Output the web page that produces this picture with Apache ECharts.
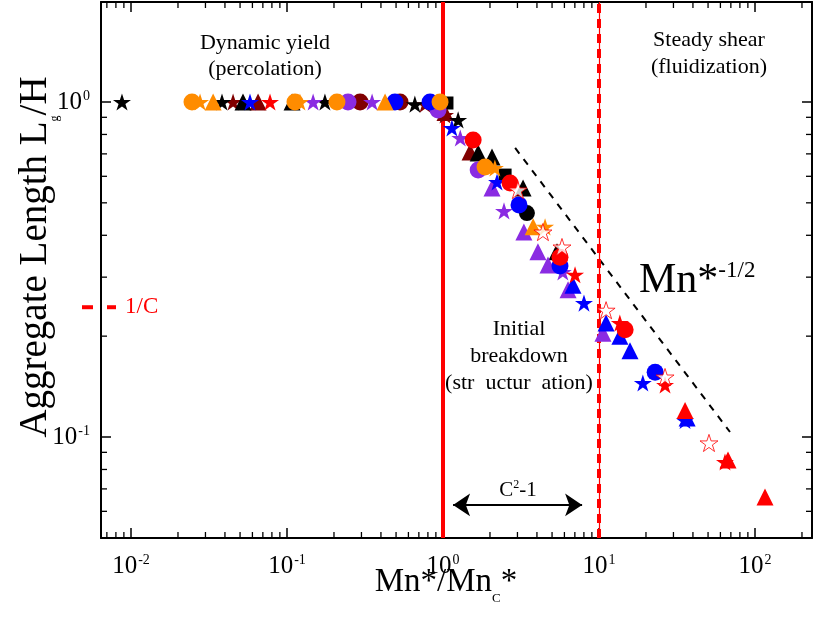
<!DOCTYPE html>
<html><head><meta charset="utf-8">
<script src="https://cdn.jsdelivr.net/npm/echarts@6/dist/echarts.min.js"></script>
<style>html,body{margin:0;padding:0;background:#fff}#c{width:814px;height:617px}</style>
</head><body><div id="c"></div>
<script>
// ---- axis ranges & ticks ----
const xRange = [0.00642, 231.9];
const yRange = [0.04995, 1.988];
const xTickValues = [0.01, 0.1, 1, 10, 100];
const yTickValues = [0.1, 1];
const xMinorTicks = [];
[0.001, 0.01, 0.1, 1, 10, 100].forEach(d => { for (let k = 2; k <= 9; k++) { const v = d * k; if (v > xRange[0] && v < xRange[1]) xMinorTicks.push(v); } });
const yMinorTicks = [];
[0.01, 0.1, 1].forEach(d => { for (let k = 2; k <= 9; k++) { const v = d * k; if (v > yRange[0] && v < yRange[1]) yMinorTicks.push(v); } });

// ---- data series (x, y) ----
const blackStars = [[0.00875,1.0],[0.0383,1.0],[0.175,1.0],[0.66,0.985],[1.25,0.884]];
const orangeCircles = [[0.0246,1.0],[0.1125,1.0],[0.209,1.0],[0.957,1.0],[1.86,0.64]];
const orangeStars = [[0.0277,1.0],[0.121,1.0],[2.15,0.635],[4.51,0.424]];
const orangeTriangles = [[0.0336,1.0],[0.425,1.0],[3.78,0.424]];
const maroonStars = [[0.0451,1.0],[0.767,0.985],[1.03,0.915]];
const maroonTriangles = [[0.0652,1.0],[1.03,0.93],[1.49,0.709]];
const maroonCircles = [[0.294,1.0],[0.530,1.0]];
const blackTriangles = [[0.0522,1.0],[0.1077,1.0],[1.68,0.704],[2.06,0.685],[3.26,0.554],[5.38,0.357]];
const blackCircles = [[3.45,0.466]];
const blackSquares = [[1.06,0.993],[2.50,0.605]];
const blueStars = [[0.0579,1.0],[1.14,0.836],[2.22,0.577],[8.01,0.251],[19.1,0.145],[35.6,0.112]];
const blueCircles = [[0.492,1.0],[0.826,1.0],[3.07,0.493],[5.62,0.324],[22.9,0.156]];
const blueTriangles = [[6.81,0.284],[11.1,0.219],[13.6,0.2],[15.8,0.181],[36.7,0.114]];
const purpleStars = [[0.147,1.0],[0.351,1.0],[1.29,0.781],[2.46,0.473],[5.86,0.311]];
const purpleCircles = [[0.246,1.0],[0.929,0.946],[1.68,0.627]];
const purpleTriangles = [[2.06,0.554],[3.30,0.409],[4.06,0.357],[4.71,0.326],[6.33,0.275],[10.6,0.204]];
const redCircles = [[1.56,0.77],[2.69,0.573],[5.62,0.344],[14.7,0.209]];
const redStars = [[0.0778,1.0],[7.02,0.305],[13.6,0.219],[26.5,0.143],[64.2,0.0842]];
const redOpenStars = [[3.02,0.546],[4.37,0.409],[5.79,0.369],[11.1,0.239],[26.5,0.151],[50.7,0.096]];
const redTriangles = [[35.6,0.12],[67.1,0.0854],[115.9,0.0662]];

// guide line Mn*^-1/2
const guideLine = [[2.9,0.729],[69.1,0.1035]];
// reference lines
const transitionX = [1, 10];
const invC = 0.244;
const arrowSpan = [[1.16,0.0627],[7.79,0.0627]];

const STAR = 'path://M50,0 L61.17,34.63 L97.55,34.55 L68.07,55.87 L79.39,90.45 L50,69 L20.61,90.45 L31.93,55.87 L2.45,34.55 L38.83,34.63 Z';
const ORANGE = '#ff8c00', MAROON = '#800000', BLUE = '#0000ff', PURPLE = '#8a2be2', RED = '#ff0000', BLACK = '#000000';
const SERIF = '"Liberation Serif","DejaVu Serif",serif';

function sc(name, data, color, symbol, size, open) {
  return {
    name, type: 'scatter', data, symbol, symbolSize: size, symbolKeepAspect: true,
    itemStyle: open ? { color: '#ffffff', borderColor: color, borderWidth: 1 } : { color: color, opacity: 1 },
    emphasis: { disabled: true }, z: 5
  };
}

function supLabel(v) {
  const e = Math.log10(v);
  if (Math.abs(e - Math.round(e)) > 1e-6) return '';
  return '{b|10}{p|' + Math.round(e) + '}';
}
const labelRich = {
  b: { fontFamily: SERIF, fontSize: 25, color: '#000', lineHeight: 26 },
  p: { fontFamily: SERIF, fontSize: 14, color: '#000', verticalAlign: 'top', lineHeight: 15, padding: [0,0,0,1] }
};

const chart = echarts.init(document.getElementById('c'));
const option = {
  animation: false,
  backgroundColor: '#fff',
  grid: { left: 101, right: 2, top: 2, bottom: 79, containLabel: false },
  xAxis: [
    { type: 'log', min: xRange[0], max: xRange[1], logBase: 10, position: 'bottom',
      axisLine: { show: true, lineStyle: { color: '#000', width: 2 } },
      axisTick: { show: true, inside: true, length: 10, lineStyle: { color: '#000', width: 1.5 } },
      axisLabel: { show: true, formatter: supLabel, rich: labelRich, margin: 15, showMinLabel: false, showMaxLabel: false },
      splitLine: { show: false }, minorTick: { show: false } },
    { type: 'log', min: xRange[0], max: xRange[1], logBase: 10, position: 'top',
      axisLine: { show: true, lineStyle: { color: '#000', width: 2 } },
      axisTick: { show: true, inside: true, length: 10, lineStyle: { color: '#000', width: 1.5 } },
      axisLabel: { show: false }, splitLine: { show: false } }
  ],
  yAxis: [
    { type: 'log', min: yRange[0], max: yRange[1], logBase: 10, position: 'left',
      axisLine: { show: true, lineStyle: { color: '#000', width: 2 } },
      axisTick: { show: true, inside: true, length: 10, lineStyle: { color: '#000', width: 1.5 } },
      axisLabel: { show: true, formatter: supLabel, rich: labelRich, margin: 11, showMinLabel: false, showMaxLabel: false },
      splitLine: { show: false } },
    { type: 'log', min: yRange[0], max: yRange[1], logBase: 10, position: 'right',
      axisLine: { show: true, lineStyle: { color: '#000', width: 2 } },
      axisTick: { show: true, inside: true, length: 10, lineStyle: { color: '#000', width: 1.5 } },
      axisLabel: { show: false }, splitLine: { show: false } }
  ],
  series: [
    { type: 'custom', name: 'xMinor', data: xMinorTicks.map(v => [v, 1]), silent: true, clip: false, z: 3,
      renderItem: function (params, api) {
        const x = api.coord([api.value(0), 1])[0];
        const cs = params.coordSys;
        const st = { stroke: '#000', lineWidth: 1.3 };
        return { type: 'group', children: [
          { type: 'line', shape: { x1: x, y1: cs.y + cs.height, x2: x, y2: cs.y + cs.height - 6 }, style: st },
          { type: 'line', shape: { x1: x, y1: cs.y, x2: x, y2: cs.y + 6 }, style: st }
        ] };
      } },
    { type: 'custom', name: 'yMinor', data: yMinorTicks.map(v => [1, v]), silent: true, clip: false, z: 3,
      renderItem: function (params, api) {
        const y = api.coord([1, api.value(1)])[1];
        const cs = params.coordSys;
        const st = { stroke: '#000', lineWidth: 1.3 };
        return { type: 'group', children: [
          { type: 'line', shape: { x1: cs.x, y1: y, x2: cs.x + 6, y2: y }, style: st },
          { type: 'line', shape: { x1: cs.x + cs.width, y1: y, x2: cs.x + cs.width - 6, y2: y }, style: st }
        ] };
      } },
    { type: 'line', name: 'refLines', data: [], silent: true, z: 2,
      markLine: { silent: true, symbol: ['none', 'none'], label: { show: false }, animation: false,
        data: [
          { xAxis: transitionX[0], lineStyle: { color: RED, width: 4, type: 'solid' } },
          { xAxis: transitionX[1], lineStyle: { color: RED, width: 1.2, type: 'solid' } },
          { xAxis: transitionX[1], lineStyle: { color: RED, width: 4, type: [9, 6] } }
        ] } },
    { type: 'line', name: 'arrow', data: [], silent: true, z: 4,
      markLine: { silent: true, symbol: ['arrow', 'arrow'], symbolSize: [17, 17], label: { show: false }, animation: false,
        lineStyle: { color: '#000', width: 2, type: 'solid' },
        data: [[ { coord: arrowSpan[0] }, { coord: arrowSpan[1] } ]] } },
    { type: 'line', name: 'guide', data: guideLine, showSymbol: false, symbol: 'none', silent: true, z: 4,
      lineStyle: { color: '#000', width: 2, type: [7, 7] } },
    sc('maroonCircles', maroonCircles, MAROON, 'circle', 17),
    sc('maroonTriangles', maroonTriangles, MAROON, 'triangle', 17),
    sc('maroonStars', maroonStars, MAROON, STAR, 18),
    sc('blackTriangles', blackTriangles, BLACK, 'triangle', 17),
    sc('blackSquares', blackSquares, BLACK, 'rect', 13),
    sc('blackCircles', blackCircles, BLACK, 'circle', 16),
    sc('blackStars', blackStars, BLACK, STAR, 18),
    sc('purpleCircles', purpleCircles, PURPLE, 'circle', 17),
    sc('purpleTriangles', purpleTriangles, PURPLE, 'triangle', 17),
    sc('purpleStars', purpleStars, PURPLE, STAR, 18),
    sc('blueCircles', blueCircles, BLUE, 'circle', 17),
    sc('blueTriangles', blueTriangles, BLUE, 'triangle', 17),
    sc('blueStars', blueStars, BLUE, STAR, 18),
    sc('orangeTriangles', orangeTriangles, ORANGE, 'triangle', 17),
    sc('orangeStars', orangeStars, ORANGE, STAR, 18),
    sc('orangeCircles', orangeCircles, ORANGE, 'circle', 17),
    sc('redCircles', redCircles, RED, 'circle', 17),
    sc('redTriangles', redTriangles, RED, 'triangle', 17),
    sc('redStars', redStars, RED, STAR, 18),
    sc('redOpenStars', redOpenStars, RED, STAR, 18, true)
  ]
};
chart.setOption(option);

// annotations
const yC = chart.convertToPixel({ yAxisIndex: 0 }, invC);
const gridLeft = chart.convertToPixel({ xAxisIndex: 0 }, xRange[0]);
const txt = (x, y, text, size, color, align) => ({
  type: 'text', x, y, silent: true, z: 10,
  style: { text, fontFamily: SERIF, fontSize: size, fill: color || '#000', align: align || 'center', verticalAlign: 'middle' }
});
chart.setOption({
  graphic: [
    txt(265, 43, 'Dynamic yield', 22),
    txt(265, 69, '(percolation)', 22),
    txt(709, 40, 'Steady shear', 22),
    txt(709, 67, '(fluidization)', 22),
    txt(519, 329, 'Initial', 22),
    txt(519, 356, 'breakdown', 22),
    txt(519, 383, '(str  uctur  ation)', 22),
    { type: 'text', x: 518, y: 490, silent: true, z: 10,
      style: { text: '{a|C}{s|2}{a|-1}', align: 'center', verticalAlign: 'middle',
        rich: { a: { fontFamily: SERIF, fontSize: 21, fill: '#000', lineHeight: 22 },
                s: { fontFamily: SERIF, fontSize: 12, fill: '#000', verticalAlign: 'top', lineHeight: 13 } } } },
    { type: 'text', x: 639, y: 281, silent: true, z: 10,
      style: { text: '{a|Mn*}{s|-1/2}', align: 'left', verticalAlign: 'middle',
        rich: { a: { fontFamily: SERIF, fontSize: 42, fill: '#000', lineHeight: 43 },
                s: { fontFamily: SERIF, fontSize: 23, fill: '#000', verticalAlign: 'top', lineHeight: 24 } } } },
    { type: 'line', silent: true, z: 10, shape: { x1: gridLeft - 19, y1: yC, x2: gridLeft - 8, y2: yC }, style: { stroke: RED, lineWidth: 4 } },
    { type: 'line', silent: true, z: 10, shape: { x1: gridLeft + 6, y1: yC, x2: gridLeft + 15, y2: yC }, style: { stroke: RED, lineWidth: 4 } },
    txt(gridLeft + 24, yC, '1/C', 23, RED, 'left'),
    { type: 'text', x: 446, y: 582, silent: true, z: 10,
      style: { text: '{a|Mn*/Mn}{s|C}{a|*}', align: 'center', verticalAlign: 'middle',
        rich: { a: { fontFamily: SERIF, fontSize: 33, fill: '#000', lineHeight: 35 },
                s: { fontFamily: SERIF, fontSize: 13, fill: '#000', verticalAlign: 'bottom', lineHeight: 14, padding: [0,0,-6,0] } } } },
    { type: 'text', x: 36, y: 257, rotation: Math.PI / 2, silent: true, z: 10,
      style: { text: '{a|Aggregate Length L}{s|g}{a|/H}', align: 'center', verticalAlign: 'middle',
        rich: { a: { fontFamily: SERIF, fontSize: 39, fill: '#000', lineHeight: 40 },
                s: { fontFamily: SERIF, fontSize: 12, fill: '#000', verticalAlign: 'bottom', lineHeight: 13, padding: [0,0,-5,0] } } } }
  ]
});
</script></body></html>
